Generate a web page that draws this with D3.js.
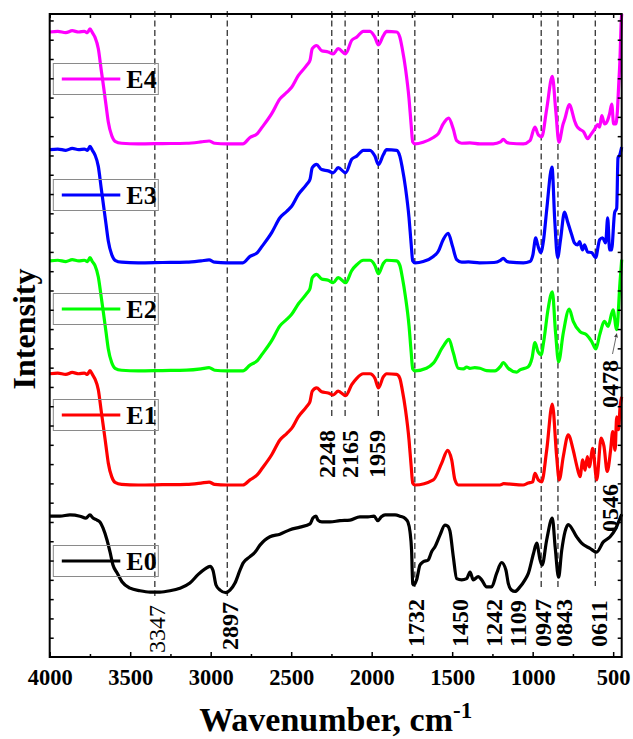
<!DOCTYPE html>
<html>
<head>
<meta charset="utf-8">
<script src="https://cdn.jsdelivr.net/npm/d3@7"></script>
<style>
  html, body { margin: 0; padding: 0; background: #fff; }
  svg { display: block; font-family: "Liberation Serif", "Times New Roman", serif; }
</style>
</head>
<body>
<svg id="chart" width="633" height="739"></svg>
<script>
const width = 633;
const height = 739;
const plot = {left: 49.7, right: 621.7, top: 14, bottom: 657};

// sample names, colours and the vertical stacking offset of each spectrum (a.u.)
const sampleNames = ["E0", "E1", "E2", "E3", "E4"];
const sampleColors = ["#000000", "#ff0000", "#00ff00", "#0000ff", "#ff00ff"];
const stackOffsets = [0, 26.75, 44.5, 61.3, 79.8];

// spectra as [wavenumber, intensity]
const e0 = [
  [4000,21.9],[3936,21.9],[3874,22.1],[3812,21.9],[3775,21.6],[3750,22.1],[3731,21.6],[3706,21.3],[3688,21.0],
  [3669,20.1],[3644,18.2],[3625,16.3],[3607,14.3],[3582,13.1],[3551,11.7],[3501,10.7],[3439,10.3],[3377,10.1],
  [3315,10.1],[3253,10.3],[3191,10.7],[3129,11.5],[3079,12.8],[3035,13.7],[3004,14.1],[2986,13.5],[2967,11.2],
  [2942,10.4],[2905,10.0],[2880,10.4],[2849,11.5],[2818,13.5],[2799,14.6],[2756,15.6],[2725,16.3],[2694,17.4],
  [2663,18.2],[2632,18.7],[2570,19.1],[2507,19.8],[2445,20.2],[2383,20.7],[2365,21.6],[2346,21.9],[2334,21.3],
  [2309,21.0],[2259,21.0],[2197,21.2],[2135,21.3],[2073,21.8],[2023,21.8],[1985,21.9],[1962,21.2],[1940,21.8],
  [1917,22.1],[1855,22.1],[1824,21.9],[1790,21.5],[1775,21.0],[1762,19.5],[1752,16.5],[1745,11.4],[1737,11.2],
  [1721,12.0],[1700,14.3],[1680,14.8],[1649,15.1],[1627,16.4],[1606,17.2],[1575,19.0],[1545,20.5],[1530,20.4],
  [1514,19.6],[1493,15.6],[1472,12.2],[1441,12.0],[1410,12.2],[1389,13.2],[1369,12.0],[1338,12.5],[1317,12.0],
  [1286,10.9],[1255,10.9],[1224,13.0],[1193,14.7],[1166,13.5],[1152,11.5],[1131,10.4],[1110,10.2],[1079,10.9],
  [1048,12.0],[1027,13.0],[995,16.1],[975,17.7],[954,15.1],[941,14.3],[913,18.2],[878,21.6],[860,17.0],
  [839,12.4],[820,16.5],[799,19.5],[779,20.6],[727,18.7],[696,17.7],[644,16.9],[603,16.3],[561,17.9],
  [519,18.7],[488,19.8],[457,21.6],[447,22.2]
];

const e1 = [
  [4000,17.3],[3950,17.4],[3900,17.2],[3860,17.5],[3820,17.3],[3785,17.4],[3765,17.2],[3750,17.8],[3735,17.2],
  [3719,16.5],[3698,14.8],[3680,11.5],[3665,8.8],[3650,6.0],[3636,3.4],[3615,1.3],[3594,0.4],[3553,0.1],
  [3450,0],[3300,0.05],[3150,0.1],[3060,0.3],[3010,0.45],[2975,0.1],[2900,0],[2800,0],[2756,0.8],[2710,1.6],
  [2680,2.6],[2621,4.7],[2570,7.0],[2528,8.0],[2497,8.8],[2456,10.6],[2404,12.2],[2383,13.0],[2369,14.6],
  [2342,15.1],[2311,14.5],[2270,14.3],[2239,14.0],[2208,14.6],[2162,13.9],[2124,15.6],[2093,16.6],[2052,17.3],
  [2011,17.3],[1980,16.6],[1958,15.1],[1928,16.8],[1907,17.3],[1845,17.2],[1825,16.6],[1810,14.8],[1790,11.7],
  [1768,7.0],[1755,3.0],[1745,0.3],
  [1731,0],[1617,0.8],[1565,3.4],[1528,5.4],[1503,3.9],[1483,0.8],[1462,0],[1300,0],[1203,0],[1180,0.2],
  [1060,0],[1027,0.3],[1000,0.5],[986,1.8],[965,0.8],[944,0.5],[913,5.4],[878,12.6],[851,4.4],[835,0.8],
  [810,4.4],[779,7.8],[748,5.4],[727,3.1],[706,1.3],[689,3.9],[675,2.3],[660,4.4],[648,2.8],[627,5.7],
  [602,0.8],[575,7.3],[557,6.0],[537,2.1],[516,5.4],[503,8.3],[488,5.4],[478,10.6],[467,8.6],[457,12.2],
  [447,13.7]
];

const e2 = [
  [4000,17.1],[3950,17.2],[3900,17.0],[3860,17.3],[3820,17.1],[3785,17.2],[3765,17.0],[3750,17.6],[3735,17.0],
  [3719,16.4],[3698,14.6],[3680,11.5],[3665,8.8],[3650,6.0],[3636,3.4],[3615,1.3],[3594,0.4],[3553,0.1],
  [3450,0],[3300,0.05],[3150,0.1],[3060,0.3],[3010,0.5],[2975,0.1],[2900,0],[2800,0],[2756,0.9],[2710,1.6],
  [2680,2.6],[2621,4.7],[2570,7.0],[2528,8.0],[2497,8.8],[2456,10.4],[2404,12.0],[2383,12.8],[2369,14.5],
  [2342,15.0],[2311,14.3],[2270,14.1],[2239,13.7],[2208,14.5],[2162,13.7],[2124,15.6],[2093,16.5],[2052,17.2],
  [2011,17.2],[1980,16.4],[1958,15.1],[1928,16.7],[1907,17.2],[1845,17.1],[1825,16.4],[1810,14.6],[1790,11.5],
  [1768,7.0],[1755,3.0],[1745,0.3],
  [1731,0],[1660,0.4],[1617,1.2],[1556,3.8],[1520,4.9],[1493,2.8],[1462,0.4],[1430,0.3],[1410,0.6],[1390,0.4],
  [1360,0.5],[1328,0.4],[1286,0.05],[1235,0],[1200,0.7],[1183,1.3],[1152,0.4],[1100,-0.2],[1079,0.15],
  [1029,0.6],[1004,2.0],[986,4.4],[967,3.0],[948,2.5],[930,4.8],[905,9.5],[878,12.3],[858,6.0],[839,1.4],
  [810,5.9],[773,9.6],[748,7.7],[706,6.1],[665,5.6],[634,4.6],[607,3.4],[584,5.6],[553,7.7],[532,6.9],
  [501,9.5],[478,6.4],[458,13.6],[447,17.3]
];

const e3 = [
  [4000,17.6],[3950,17.7],[3900,17.5],[3860,17.8],[3820,17.6],[3785,17.7],[3765,17.5],[3750,18.1],[3735,17.5],
  [3719,16.8],[3698,15.0],[3680,11.6],[3665,8.8],[3650,6.0],[3636,3.4],[3615,1.3],[3594,0.4],[3553,0.1],
  [3450,0],[3300,0.05],[3150,0.1],[3060,0.3],[3010,0.45],[2975,0.1],[2900,0],[2800,0],[2756,1.0],[2710,1.6],
  [2680,2.6],[2621,4.7],[2570,7.0],[2528,8.0],[2497,8.8],[2456,10.6],[2404,12.2],[2383,13.0],[2369,14.8],
  [2342,15.3],[2311,14.5],[2270,14.3],[2239,14.0],[2208,14.8],[2162,14.0],[2124,16.1],[2093,16.6],[2052,17.5],
  [2011,17.5],[1980,16.6],[1958,15.3],[1928,16.8],[1907,17.6],[1845,17.5],[1825,16.6],[1810,14.8],[1790,11.7],
  [1768,7.0],[1755,3.0],[1745,0.3],
  [1731,0],[1680,0.2],[1617,1.0],[1586,1.8],[1556,3.6],[1525,4.6],[1498,2.6],[1472,0.5],[1441,0.1],[1400,0.15],
  [1330,0],[1240,0.05],[1200,0.4],[1183,0.7],[1160,0.2],[1141,0.1],[1058,0],[1017,0.2],[999,1.2],[981,3.9],
  [969,2.8],[950,1.6],[932,3.6],[913,8.2],[880,14.9],[863,6.7],[845,0.8],[827,3.6],[802,7.9],[783,6.4],
  [758,4.4],[740,3.1],[721,2.8],[709,3.3],[690,2.0],[678,2.8],[659,1.7],[634,1.6],[609,0.8],[584,3.6],
  [566,3.9],[547,3.1],[534,7.0],[522,2.0],[510,2.0],[491,7.8],[478,8.5],[470,16.3],[459,16.8],[447,18.0]
];

const e4 = [
  [4000,17.4],[3950,17.5],[3900,17.3],[3860,17.6],[3820,17.4],[3785,17.5],[3765,17.3],[3750,17.9],[3735,17.3],
  [3719,16.6],[3698,14.8],[3680,11.5],[3665,8.8],[3650,6.0],[3636,3.4],[3615,1.3],[3594,0.4],[3553,0.1],
  [3450,0],[3300,0.05],[3150,0.1],[3060,0.3],[3010,0.45],[2975,0.1],[2900,0],[2800,0],[2756,1.0],[2710,1.6],
  [2680,2.6],[2621,4.7],[2570,7.0],[2528,8.0],[2497,8.8],[2456,10.6],[2404,12.2],[2383,13.0],[2369,14.8],
  [2342,15.3],[2311,14.5],[2270,14.3],[2239,14.0],[2208,14.8],[2162,14.0],[2124,16.1],[2093,16.6],[2052,17.5],
  [2011,17.5],[1980,16.6],[1958,15.4],[1928,16.8],[1907,17.5],[1845,17.4],[1825,16.6],[1810,14.8],[1790,11.7],
  [1768,7.0],[1755,3.0],[1745,0.3],
  [1731,0],[1680,0.26],[1617,1.0],[1586,1.6],[1556,3.1],[1522,4.0],[1493,2.3],[1472,0.5],[1441,0.1],[1390,0.15],
  [1328,0],[1245,0],[1200,0.3],[1183,0.7],[1160,0.2],[1141,0.1],[1058,0],[1017,0.5],[986,2.6],[965,1.4],
  [944,1.1],[913,5.4],[878,10.5],[856,5.0],[837,0.26],[812,3.0],[800,3.9],[773,6.1],[737,3.4],[727,2.8],
  [709,2.3],[684,1.9],[659,0.8],[640,1.4],[615,2.3],[597,3.0],[584,2.6],[571,4.4],[553,3.1],[534,3.7],
  [522,4.7],[509,6.2],[497,3.1],[484,3.1],[474,5.0],[466,9.0],[458,13.0],[450,19.0],[447,20.2]
];

const spectra = [e0, e1, e2, e3, e4];

// axis ticks
const majorTicks = [4000, 3500, 3000, 2500, 2000, 1500, 1000, 500];
const minorTicks = [3750, 3250, 2750, 2250, 1750, 1250, 750];

// marked bands: label text, wavenumber, and which ones get a dashed guide
const bandLabels = ["3347", "2897", "2248", "2165", "1959", "1732", "1450", "1242", "1109", "0947", "0843", "0611", "0546", "0478"];
const bandWavenumbers = [3347, 2897, 2248, 2165, 1959, 1732, 1450, 1242, 1109, 947, 843, 611, 546, 478];
const guideWavenumbers = [3347, 2897, 2248, 2165, 1959, 1732, 947, 843, 611];

// layout of the band labels (screen units)
const bandLayout = {
  "3347": {dx: 2, bottom: 653, bold: false},
  "2897": {dx: 3, bottom: 650, bold: true},
  "2248": {dx: -5, bottom: 478, bold: true},
  "2165": {dx: 5, bottom: 478, bold: true},
  "1959": {dx: -1, bottom: 478, bold: true},
  "1732": {dx: 1, bottom: 647, bold: true},
  "1450": {dx: 0, bottom: 647, bold: true},
  "1242": {dx: 0, bottom: 647, bold: true},
  "1109": {dx: 3, bottom: 647, bold: true},
  "0947": {dx: 2, bottom: 647, bold: true},
  "0843": {dx: 6, bottom: 647, bold: true},
  "0611": {dx: 4, bottom: 647, bold: true},
  "0546": {dx: 4, bottom: 532, bold: true},
  "0478": {dx: -7, bottom: 408, bold: true}
};
const guideBottoms = {3347: 596, 2897: 596, 2248: 418, 2165: 418, 1959: 418, 1732: 588, 947: 588, 843: 588, 611: 586};
const legendCenters = [561, 415, 309, 195, 79];

const x = d3.scaleLinear().domain([4000, 447]).range([plot.left, plot.right]);
const y = d3.scaleLinear().domain([0, 100]).range([plot.bottom, plot.top]);

const svg = d3.select("#chart").attr("viewBox", [0, 0, width, height]);

// dashed guides
svg.append("g")
    .attr("stroke", "#333")
    .attr("stroke-width", 1.3)
    .attr("stroke-dasharray", "6,3.5")
    .selectAll("line")
    .data(guideWavenumbers)
    .join("line")
    .attr("x1", d => x(d))
    .attr("x2", d => x(d))
    .attr("y1", plot.top - 3)
    .attr("y2", d => guideBottoms[d]);

// spectra
const line = d3.line().curve(d3.curveMonotoneX);
svg.append("g")
    .attr("fill", "none")
    .attr("stroke-width", 3.2)
    .attr("stroke-linejoin", "round")
    .selectAll("path")
    .data(spectra)
    .join("path")
    .attr("stroke", (d, i) => sampleColors[i])
    .attr("d", (d, i) => line(d.map(p => [x(p[0]), y(p[1] + stackOffsets[i])])));

// legend boxes
const legend = svg.append("g")
    .selectAll("g")
    .data(sampleNames)
    .join("g")
    .attr("transform", (d, i) => `translate(53.3,${legendCenters[i]})`);

legend.append("rect")
    .attr("x", 0).attr("y", -15.5)
    .attr("width", 105).attr("height", 31)
    .attr("fill", "none")
    .attr("stroke", "#8a8a8a")
    .attr("stroke-width", 1);

legend.append("line")
    .attr("x1", 8.5).attr("x2", 67)
    .attr("y1", 0).attr("y2", 0)
    .attr("stroke", (d, i) => sampleColors[i])
    .attr("stroke-width", 3);

legend.append("text")
    .attr("x", 73).attr("y", 9)
    .attr("font-size", 26)
    .attr("font-weight", "bold")
    .text(d => d);

// band labels
svg.append("g")
    .selectAll("text")
    .data(bandLabels)
    .join("text")
    .attr("transform", (d, i) => {
        const l = bandLayout[d];
        return `translate(${x(bandWavenumbers[i]) + l.dx + 8},${l.bottom}) rotate(-90)`;
    })
    .attr("font-size", 24)
    .attr("font-weight", d => bandLayout[d].bold ? "bold" : "normal")
    .text(d => d);

// pointer from the 0478 label to its band
svg.append("defs").append("marker")
    .attr("id", "arrow")
    .attr("viewBox", "0 0 10 10")
    .attr("refX", 9).attr("refY", 5)
    .attr("markerWidth", 5).attr("markerHeight", 5)
    .attr("orient", "auto")
    .append("path")
    .attr("d", "M0,0L10,5L0,10Z")
    .attr("fill", "#444");

svg.append("line")
    .attr("x1", 612.5).attr("y1", 354)
    .attr("x2", x(478)).attr("y2", y(6.4 + stackOffsets[2]) + 4)
    .attr("stroke", "#444")
    .attr("stroke-width", 0.8)
    .attr("marker-end", "url(#arrow)");

// frame
svg.append("rect")
    .attr("x", plot.left).attr("y", plot.top)
    .attr("width", plot.right - plot.left)
    .attr("height", plot.bottom - plot.top)
    .attr("fill", "none")
    .attr("stroke", "#000")
    .attr("stroke-width", 2);

// axes
function styleAxis(g) {
    g.select(".domain").remove();
    g.selectAll(".tick line").attr("stroke", "#000").attr("stroke-width", 1.5);
}

svg.append("g")
    .attr("transform", `translate(0,${plot.bottom})`)
    .call(d3.axisBottom(x).tickValues(majorTicks).tickSize(-5).tickPadding(12).tickFormat(d3.format("d")))
    .call(styleAxis)
    .call(g => g.selectAll("text")
        .attr("font-family", "Liberation Serif, serif")
        .attr("font-size", 22.5)
        .attr("font-weight", "bold")
        .attr("fill", "#000"));

svg.append("g")
    .attr("transform", `translate(0,${plot.bottom})`)
    .call(d3.axisBottom(x).tickValues(minorTicks).tickSize(-3).tickFormat(""))
    .call(styleAxis);

svg.append("g")
    .attr("transform", `translate(0,${plot.top})`)
    .call(d3.axisTop(x).tickValues(majorTicks.concat(minorTicks)).tickSize(-4).tickFormat(""))
    .call(styleAxis);

const yTicks = d3.range(3, 100, 3);
svg.append("g")
    .attr("transform", `translate(${plot.left},0)`)
    .call(d3.axisLeft(y).tickValues(yTicks).tickSize(-4).tickFormat(""))
    .call(styleAxis);

svg.append("g")
    .attr("transform", `translate(${plot.right},0)`)
    .call(d3.axisRight(y).tickValues(yTicks).tickSize(-4).tickFormat(""))
    .call(styleAxis);

// axis titles
const xTitle = svg.append("text")
    .attr("x", (plot.left + plot.right) / 2)
    .attr("y", 731)
    .attr("text-anchor", "middle")
    .attr("font-size", 34)
    .attr("font-weight", "bold");
xTitle.append("tspan").text("Wavenumber, cm");
xTitle.append("tspan").attr("dy", -13).attr("font-size", 23).text("-1");

svg.append("text")
    .attr("transform", "translate(35,329) rotate(-90)")
    .attr("text-anchor", "middle")
    .attr("font-size", 32)
    .attr("font-weight", "bold")
    .text("Intensity");
</script>
</body>
</html>
